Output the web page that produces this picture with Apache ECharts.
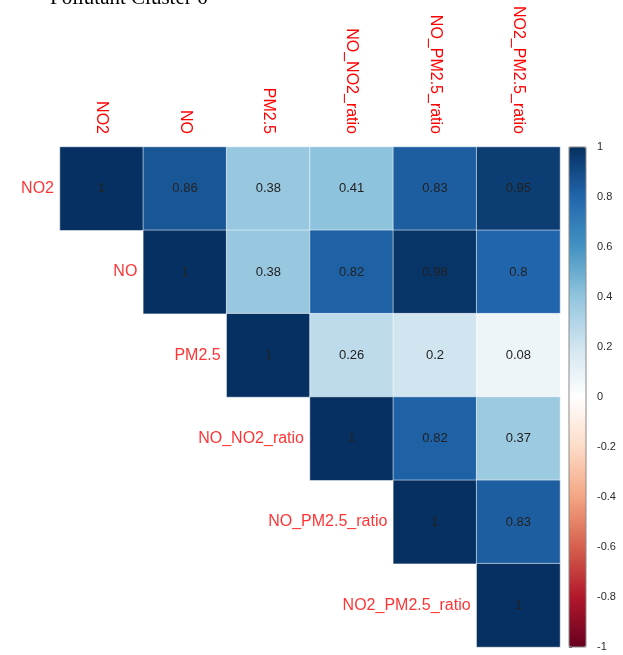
<!DOCTYPE html>
<html>
<head>
<meta charset="utf-8">
<script src="https://cdn.jsdelivr.net/npm/echarts@6/dist/echarts.min.js"></script>
<style>
  html, body { margin: 0; padding: 0; background: #fff; }
  #chart { width: 623px; height: 655px; }
</style>
</head>
<body>
<div id="chart"></div>
<script>
// Variables of the correlation matrix (upper triangle shown)
const variables = ['NO2', 'NO', 'PM2.5', 'NO_NO2_ratio', 'NO_PM2.5_ratio', 'NO2_PM2.5_ratio'];

// Upper-triangle correlation rows; null = lower triangle (not drawn)
const rowNO2      = [1, 0.86, 0.38, 0.41, 0.83, 0.95];
const rowNO       = [null, 1, 0.38, 0.82, 0.98, 0.8];
const rowPM25     = [null, null, 1, 0.26, 0.2, 0.08];
const rowNONO2    = [null, null, null, 1, 0.82, 0.37];
const rowNOPM25   = [null, null, null, null, 1, 0.83];
const rowNO2PM25  = [null, null, null, null, null, 1];
const corrRows = [rowNO2, rowNO, rowPM25, rowNONO2, rowNOPM25, rowNO2PM25];

// Colour bar scale
const scaleMin = -1;
const scaleMax = 1;
const scaleStep = 0.2;

// RdBu diverging palette (negative -> positive)
const rdBu = ['#67001F', '#B2182B', '#D6604D', '#F4A582', '#FDDBC7', '#FFFFFF',
              '#D1E5F0', '#92C5DE', '#4393C3', '#2166AC', '#053061'];

const cells = [];
corrRows.forEach((row, r) => {
  row.forEach((v, c) => {
    if (v !== null) cells.push([c, r, v]);
  });
});
const diagonal = variables.map((name, i) => ({ value: [i, i], name: name }));

const gridLeft = 60, gridTop = 147, gridSize = 500;
const cellHalf = gridSize / variables.length / 2;

const chart = echarts.init(document.getElementById('chart'));
chart.setOption({
  animation: false,
  backgroundColor: '#fff',
  title: {
    text: 'Pollutant Cluster 6',
    left: 45,
    top: -17,
    textStyle: { fontFamily: 'Liberation Serif', fontSize: 21, fontWeight: 'normal', color: '#000' }
  },
  grid: [
    { left: gridLeft, top: gridTop, width: gridSize, height: gridSize },
    { left: 569, top: gridTop, width: 17, height: gridSize, show: true,
      borderColor: '#8a8a8a', borderWidth: 1, backgroundColor: 'transparent', z: 10 }
  ],
  xAxis: [
    {
      type: 'category', data: variables, position: 'top', gridIndex: 0,
      axisLine: { show: false }, axisTick: { show: false }, splitLine: { show: false },
      axisLabel: { rotate: 90, color: '#ff0000', fontFamily: 'Liberation Sans', fontSize: 16, margin: 13 }
    },
    { type: 'value', gridIndex: 1, show: false, min: 0, max: 1 }
  ],
  yAxis: [
    {
      type: 'category', data: variables, inverse: true, gridIndex: 0,
      axisLine: { show: false }, axisTick: { show: false }, axisLabel: { show: false }, splitLine: { show: false }
    },
    {
      type: 'value', gridIndex: 1, position: 'right', min: scaleMin, max: scaleMax, interval: scaleStep,
      axisLine: { show: false }, splitLine: { show: false },
      axisTick: { show: true, length: 3, lineStyle: { color: '#555' } },
      axisLabel: { color: '#2b2b2b', fontFamily: 'Liberation Sans', fontSize: 11, margin: 11 }
    }
  ],
  visualMap: {
    type: 'continuous',
    min: scaleMin, max: scaleMax,
    seriesIndex: 0,
    calculable: false,
    orient: 'vertical',
    left: 569, top: gridTop,
    itemWidth: 17, itemHeight: gridSize,
    padding: 0,
    text: ['', ''],
    inRange: { color: rdBu }
  },
  series: [
    {
      type: 'heatmap',
      xAxisIndex: 0, yAxisIndex: 0,
      data: cells,
      itemStyle: { borderColor: 'rgba(255,255,255,0.55)', borderWidth: 1 },
      label: {
        show: true,
        formatter: p => String(p.value[2]),
        color: '#222',
        fontFamily: 'Liberation Sans',
        fontSize: 13
      },
      emphasis: { disabled: true }
    },
    {
      type: 'scatter',
      xAxisIndex: 0, yAxisIndex: 0,
      data: diagonal,
      symbolSize: 0,
      label: {
        show: true,
        position: 'left',
        distance: cellHalf + 6,
        formatter: p => p.name,
        color: '#ff0000',
        fontFamily: 'Liberation Sans',
        fontSize: 16
      },
      silent: true
    }
  ]
});
</script>
</body>
</html>
